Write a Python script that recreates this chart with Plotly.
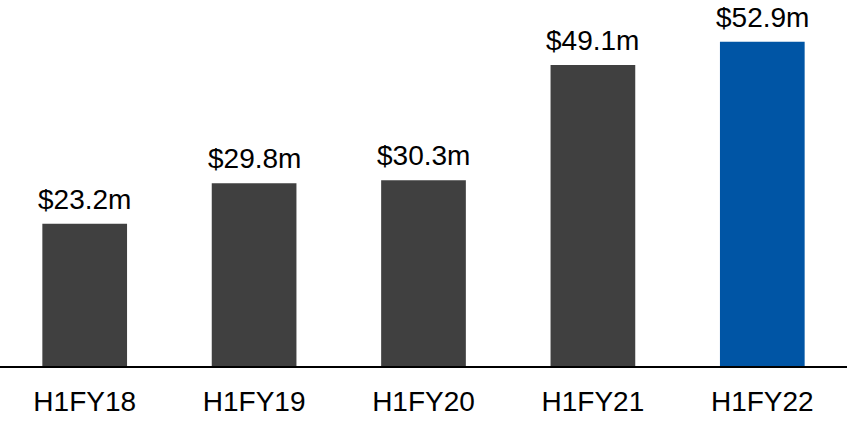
import plotly.graph_objects as go

periods = ["H1FY18", "H1FY19", "H1FY20", "H1FY21", "H1FY22"]
values = [23.2, 29.8, 30.3, 49.1, 52.9]
value_labels = ["$23.2m", "$29.8m", "$30.3m", "$49.1m", "$52.9m"]
bar_colors = ["#404040", "#404040", "#404040", "#404040", "#0055A5"]

FONT = "Arial, Liberation Sans, sans-serif"

fig = go.Figure(
    go.Bar(
        x=periods,
        y=values,
        marker=dict(color=bar_colors, line=dict(width=0)),
        hoverinfo="skip",
    )
)

for p, v, lab in zip(periods, values, value_labels):
    fig.add_annotation(
        x=p, y=v, text=lab, showarrow=False,
        yanchor="bottom", yshift=8, borderpad=0,
        font=dict(family=FONT, size=28, color="#000000"),
    )

fig.update_layout(
    width=851, height=422,
    margin=dict(l=0, r=4, t=0, b=56),
    paper_bgcolor="white", plot_bgcolor="white",
    bargap=0.5,
    showlegend=False,
    font=dict(family=FONT, size=28, color="#000000"),
)
fig.update_xaxes(
    type="category", range=[-0.5, 4.5],
    showline=True, linecolor="#000000", linewidth=2,
    showgrid=False, ticks="", zeroline=False,
    ticklabelstandoff=9,
    tickfont=dict(family=FONT, size=28, color="#000000"),
)
fig.update_yaxes(
    range=[0, 59.7], visible=False, showgrid=False, zeroline=False,
)

fig.write_html("out.html")
